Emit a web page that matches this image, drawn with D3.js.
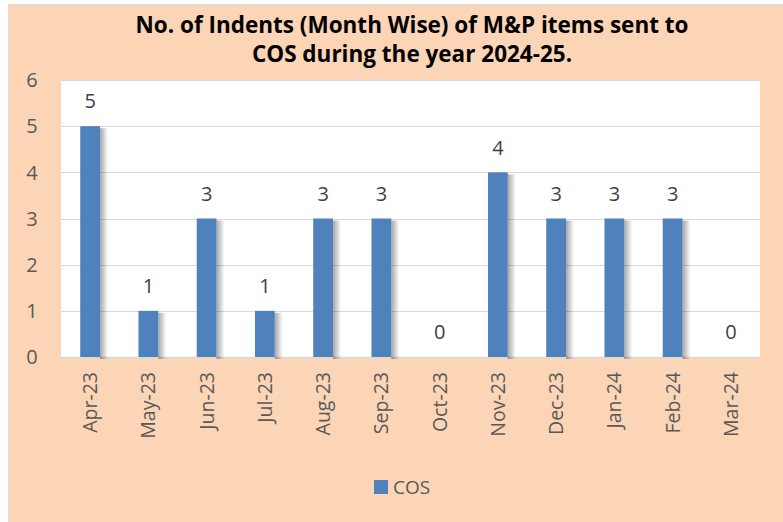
<!DOCTYPE html>
<html>
<head>
<meta charset="utf-8">
<script src="https://cdn.jsdelivr.net/npm/d3@7"></script>
<style>
  body { margin: 0; background: #fff; }
  svg { display: block; }
  text { font-family: "Open Sans", "Liberation Sans", sans-serif; }
</style>
</head>
<body>
<div id="chart"></div>
<script>
var width = 783,
    height = 522;

// data
var months = ['Apr-23', 'May-23', 'Jun-23', 'Jul-23', 'Aug-23', 'Sep-23',
              'Oct-23', 'Nov-23', 'Dec-23', 'Jan-24', 'Feb-24', 'Mar-24'];
var cosValues = [5, 1, 3, 1, 3, 3, 0, 4, 3, 3, 3, 0];
var yTicks = [0, 1, 2, 3, 4, 5, 6];
var titleLines = ['No. of Indents (Month Wise) of M&P items sent to',
                  'COS during the year 2024-25.'];
var seriesName = 'COS';

var plot = {left: 61, right: 760, top: 80, bottom: 357};

var svg = d3.select('#chart').append('svg')
    .attr('width', width)
    .attr('height', height);

var defs = svg.append('defs');
var grad = defs.append('linearGradient').attr('id', 'shadow');
grad.append('stop').attr('offset', '0%').attr('stop-color', '#000').attr('stop-opacity', 0.35);
grad.append('stop').attr('offset', '100%').attr('stop-color', '#000').attr('stop-opacity', 0);

// outer frame
svg.append('rect')
    .attr('x', 8).attr('y', 4)
    .attr('width', width - 8).attr('height', height - 4)
    .attr('fill', '#fbd5b5');
svg.append('line')
    .attr('x1', 8.5).attr('x2', 8.5).attr('y1', 4).attr('y2', height)
    .attr('stroke', '#d9d9d9');
svg.append('line')
    .attr('x1', 8).attr('x2', width).attr('y1', 4.5).attr('y2', 4.5)
    .attr('stroke', '#d9d9d9');

// plot area
svg.append('rect')
    .attr('x', plot.left).attr('y', plot.top)
    .attr('width', plot.right - plot.left).attr('height', plot.bottom - plot.top)
    .attr('fill', '#fff');

var x = d3.scaleBand()
    .domain(months)
    .range([plot.left, plot.right])
    .paddingInner(0.66)
    .paddingOuter(0.33);

var y = d3.scaleLinear()
    .domain([0, 6])
    .range([plot.bottom, plot.top]);

// gridlines
svg.append('g').selectAll('line')
    .data(yTicks)
    .enter().append('line')
    .attr('x1', plot.left).attr('x2', plot.right)
    .attr('y1', function(d) { return Math.round(y(d)) + 0.5; })
    .attr('y2', function(d) { return Math.round(y(d)) + 0.5; })
    .attr('stroke', '#d9d9d9')
    .attr('stroke-width', function(d) { return d === 0 ? 1.5 : 1; });

// y tick labels
svg.append('g').selectAll('text')
    .data(yTicks)
    .enter().append('text')
    .attr('x', 32)
    .attr('y', function(d) { return y(d); })
    .attr('dy', '0.36em')
    .attr('text-anchor', 'middle')
    .attr('font-size', 20)
    .attr('fill', '#595959')
    .text(function(d) { return d; });

// bar shadows
svg.append('g').selectAll('rect')
    .data(cosValues)
    .enter().append('rect')
    .attr('x', function(d, i) { return x(months[i]) + x.bandwidth(); })
    .attr('y', function(d) { return y(d) + 2; })
    .attr('width', 8)
    .attr('height', function(d) { return d > 0 ? y(0) - y(d) : 0; })
    .attr('fill', 'url(#shadow)');

// bars
svg.append('g').selectAll('rect')
    .data(cosValues)
    .enter().append('rect')
    .attr('x', function(d, i) { return x(months[i]); })
    .attr('y', function(d) { return y(d); })
    .attr('width', x.bandwidth())
    .attr('height', function(d) { return y(0) - y(d); })
    .attr('fill', '#4f81bd');

// value labels
svg.append('g').selectAll('text')
    .data(cosValues)
    .enter().append('text')
    .attr('x', function(d, i) { return x(months[i]) + x.bandwidth() / 2; })
    .attr('y', function(d) { return y(d) - 25; })
    .attr('dy', '0.36em')
    .attr('text-anchor', 'middle')
    .attr('font-size', 20)
    .attr('fill', '#404040')
    .text(function(d) { return d; });

// x labels
svg.append('g').selectAll('text')
    .data(months)
    .enter().append('text')
    .attr('transform', function(d) {
      return 'translate(' + (x(d) + x.bandwidth() / 2) + ',372) rotate(-90)';
    })
    .attr('dy', '0.36em')
    .attr('text-anchor', 'end')
    .attr('font-size', 19.5)
    .attr('fill', '#595959')
    .text(function(d) { return d; });

// title
svg.append('g').selectAll('text')
    .data(titleLines)
    .enter().append('text')
    .attr('x', 412)
    .attr('y', function(d, i) { return 33 + i * 29; })
    .attr('text-anchor', 'middle')
    .attr('font-size', 22.5)
    .attr('font-weight', 'bold')
    .attr('fill', '#000')
    .text(function(d) { return d; });

// legend
var legend = svg.append('g');
legend.append('rect')
    .attr('x', 374).attr('y', 480)
    .attr('width', 14).attr('height', 14)
    .attr('fill', '#4f81bd');
legend.append('text')
    .attr('x', 393).attr('y', 487)
    .attr('dy', '0.36em')
    .attr('font-size', 19)
    .attr('fill', '#595959')
    .text(seriesName);
</script>
</body>
</html>
